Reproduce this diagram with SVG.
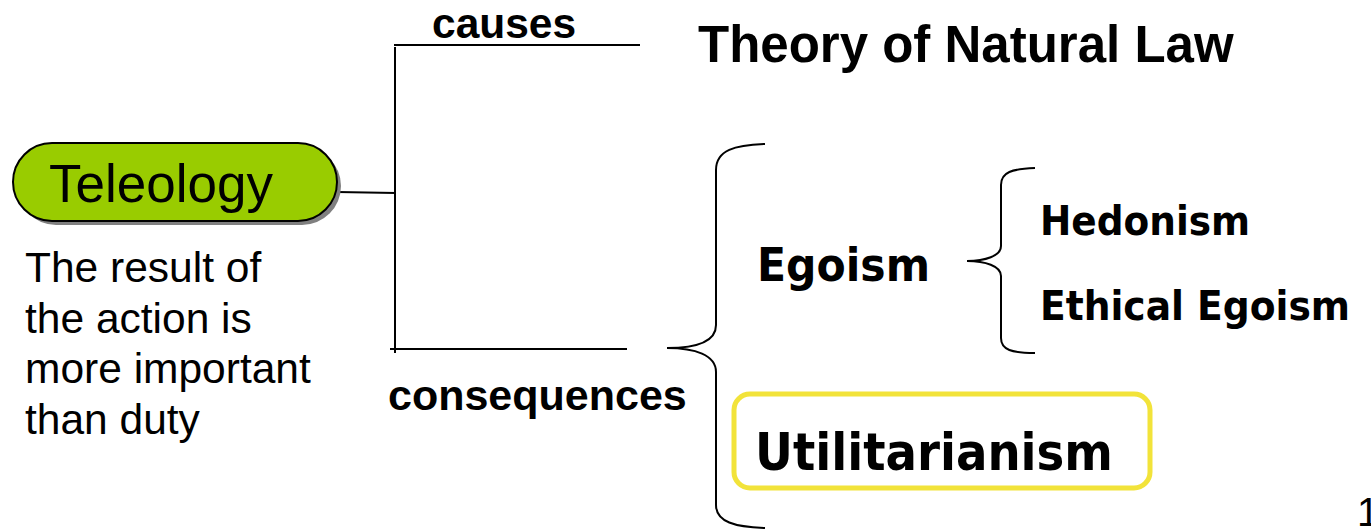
<svg xmlns="http://www.w3.org/2000/svg" width="1371" height="531" viewBox="0 0 1371 531">
<style>
.ln{fill:none;stroke:#000;stroke-width:2;}
.ar{font-family:"Liberation Sans",Arial,sans-serif;fill:#000;}
.b{font-weight:bold;}
.hu{font-family:"DejaVu Sans Condensed","DejaVu Sans",sans-serif;font-weight:bold;fill:#000;}
</style>
<rect width="1371" height="531" fill="#fff"/>
<g id="connectors">
<line class="ln" x1="337" y1="192" x2="396" y2="193"/>
<line class="ln" x1="395" y1="47" x2="395" y2="353"/>
<line class="ln" x1="394" y1="45" x2="640" y2="45"/>
<line class="ln" x1="390" y1="349" x2="627" y2="349"/>
<path class="ln" d="M765,144 C735,145 716,150 716,170 L716,325 C716,342 695,348 667,348 C695,348 716,355 716,372 L716,505 C716,522 735,527 765,528"/>
<path class="ln" d="M1035,168 C1012,169 1001,172 1001,185 L1001,246 C1001,256 985,261 967,261 C985,261 1001,266 1001,276 L1001,338 C1001,350 1012,353 1035,353"/>
</g>
<g id="teleology">
<rect x="17" y="147" width="324" height="78" rx="39" fill="#808080"/>
<rect x="13" y="143" width="324" height="78" rx="39" fill="#99CC00" stroke="#000" stroke-width="2"/>
<text class="ar" x="49" y="202" font-size="53">Teleology</text>
</g>
<g id="description">
<text class="ar" font-size="42.5"><tspan x="25" y="282">The result of</tspan><tspan x="25" y="333">the action is</tspan><tspan x="25" y="383">more important</tspan><tspan x="25" y="434">than duty</tspan></text>
</g>
<g id="causes"><text class="ar b" x="432" y="38" font-size="42.5">causes</text></g>
<g id="consequences"><text class="ar b" x="388" y="410" font-size="43">consequences</text></g>
<g id="natural-law"><text class="ar b" x="698" y="62" font-size="51">Theory of Natural Law</text></g>
<g id="egoism"><text class="hu" x="757" y="281" font-size="47" textLength="173" lengthAdjust="spacingAndGlyphs">Egoism</text></g>
<g id="hedonism"><text class="hu" x="1040" y="235" font-size="41.5" textLength="210" lengthAdjust="spacingAndGlyphs">Hedonism</text></g>
<g id="ethical-egoism"><text class="hu" x="1040" y="320" font-size="41.5" textLength="310" lengthAdjust="spacingAndGlyphs">Ethical Egoism</text></g>
<g id="utilitarianism">
<rect x="734" y="394" width="416" height="94" rx="16" fill="#fff" stroke="#F2E33A" stroke-width="5"/>
<text class="hu" x="755" y="470" font-size="52" textLength="358" lengthAdjust="spacingAndGlyphs">Utilitarianism</text>
</g>
<text class="ar" x="1357" y="526" font-size="40">1</text>
</svg>
